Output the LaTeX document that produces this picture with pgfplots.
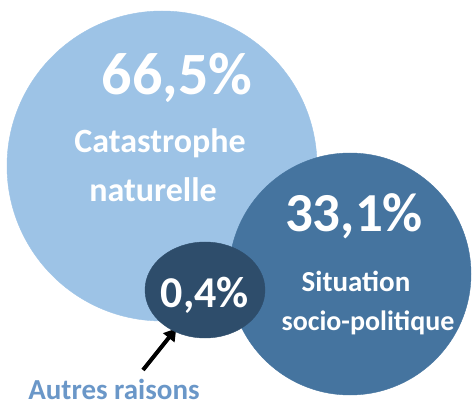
\documentclass[border=0pt]{standalone}
\usepackage{pgfplots}
\pgfplotsset{compat=1.18}
\usepackage{fontspec}
\setmainfont{Carlito}
\usetikzlibrary{arrows.meta}
\definecolor{bigc}{HTML}{9DC3E6}
\definecolor{medc}{HTML}{45749F}
\definecolor{smc}{HTML}{2E4D6B}
\definecolor{lblc}{HTML}{6A97C8}
\begin{document}
\begin{tikzpicture}
\path[use as bounding box] (0,0) rectangle (474pt,407pt);
\begin{axis}[at={(0,0)}, anchor=south west,
  width=474pt, height=407pt, scale only axis,
  xmin=0, xmax=474, ymin=0, ymax=407,
  axis lines=none, clip=false]
% big circle: Catastrophe naturelle (66,5%)
\addplot[only marks, mark=*, mark size=155pt, color=bigc, mark options={draw=none, fill=bigc}] coordinates {(162,241)};
% medium circle: Situation socio-politique (33,1%)
\addplot[only marks, mark=*, mark size=121pt, color=medc, mark options={draw=none, fill=medc}] coordinates {(350,133)};
% small ellipse: Autres raisons (0,4%)
\addplot[only marks, mark=*, mark size=48pt, color=smc, mark options={draw=none, fill=smc, xscale=1.25}] coordinates {(205,117)};
% arrow
\addplot[black, line width=4pt, -{Triangle[length=12pt, width=14pt]}, shorten >=-2pt] coordinates {(143,37) (175,77)};
\coordinate (t1) at (axis cs:177,312);
\coordinate (t2) at (axis cs:160,254);
\coordinate (t3) at (axis cs:153,205);
\coordinate (t4) at (axis cs:354,175);
\coordinate (t5) at (axis cs:356,115);
\coordinate (t6) at (axis cs:368,76);
\coordinate (t7) at (axis cs:205,99);
\coordinate (t8) at (axis cs:114,7);
\end{axis}
\node[anchor=base, text=white, font=\bfseries\fontsize{60}{60}\selectfont] at (t1) {66,5\%};
\node[anchor=base, text=white, font=\bfseries\fontsize{34}{34}\selectfont] at (t2) {Catastrophe};
\node[anchor=base, text=white, font=\bfseries\fontsize{34}{34}\selectfont] at (t3) {naturelle};
\node[anchor=base, text=white, font=\bfseries\fontsize{55}{55}\selectfont] at (t4) {33,1\%};
\node[anchor=base, text=white, font=\bfseries\fontsize{29}{29}\selectfont] at (t5) {Situation};
\node[anchor=base, text=white, font=\bfseries\fontsize{28}{28}\selectfont] at (t6) {socio-politique};
\node[anchor=base, text=white, font=\bfseries\fontsize{44}{44}\selectfont] at (t7) {0,4\%};
\node[anchor=base, inner sep=0pt, text=lblc, font=\bfseries\fontsize{29}{29}\selectfont] at (t8) {Autres raisons};
\end{tikzpicture}
\end{document}
